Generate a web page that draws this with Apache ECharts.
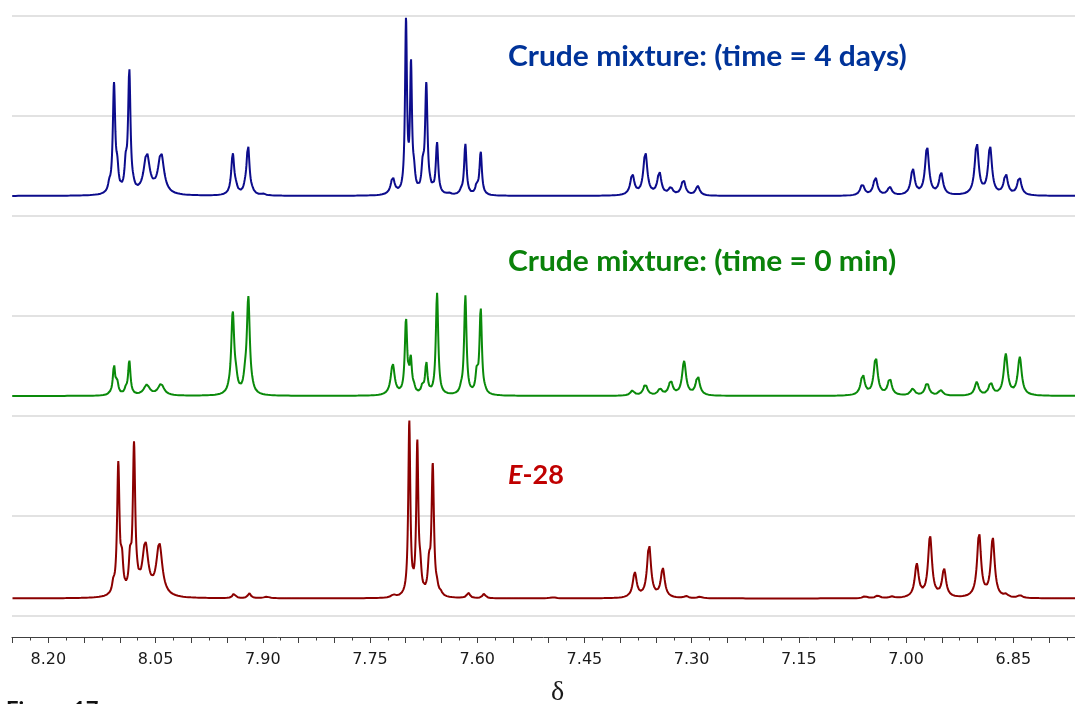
<!DOCTYPE html>
<html>
<head>
<meta charset="utf-8">
<script src="https://cdn.jsdelivr.net/npm/echarts@6/dist/echarts.min.js"></script>
<style>
html,body{margin:0;padding:0;background:#fff;}
#chart{width:1075px;height:704px;}
</style>
</head>
<body>
<div id="chart"></div>
<script>
// ---- axis (chemical shift, ppm; drawn reversed) ----
const shiftMin = 6.7637, shiftMax = 8.2508;
const tickLabels = [8.20, 8.05, 7.90, 7.75, 7.60, 7.45, 7.30, 7.15, 7.00, 6.85];
const majorTicks = [8.25, 8.20, 8.15, 8.10, 8.05, 8.00, 7.95, 7.90, 7.85, 7.80, 7.75, 7.70, 7.65, 7.60,
                    7.55, 7.50, 7.45, 7.40, 7.35, 7.30, 7.25, 7.20, 7.15, 7.10, 7.05, 7.00, 6.95, 6.90,
                    6.85, 6.80];
const minorTicks = [8.225, 8.175, 8.125, 8.075, 8.025, 7.975, 7.925, 7.875, 7.825, 7.775, 7.725, 7.675,
                    7.625, 7.575, 7.525, 7.475, 7.425, 7.375, 7.325, 7.275, 7.225, 7.175, 7.125, 7.075,
                    7.025, 6.975, 6.925, 6.875, 6.825, 6.775];

// ---- stack offsets of each trace (intensity units) ----
const blueOffset = 420, greenOffset = 220, redOffset = 17.5;

// ---- peak lists (chemical shift ppm, height, half-width ppm) ----
// Crude mixture, time = 4 days
const blueShift  = [8.1147,8.1081,8.1035,8.0917,8.0867,8.0811,8.0623,8.0423,
                    7.9420,7.9374,7.9248,7.9206,7.9146,7.8996,
                    7.7182,7.6996,7.6926,7.6884,7.6762,7.6712,7.6660,7.6562,7.6394,7.6226,7.6166,7.6007,7.5951,
                    7.3830,7.3648,7.3452,7.3293,7.3116,7.2915,
                    7.0612,7.0430,7.0229,6.9907,6.9707,6.9511,6.9012,6.8826,6.8606,6.8416];
const blueHeight = [7,108,20,24,121,3,40,41,
                    41,5,4,49,2,1.5,
                    17,171,124,16,23,108,3,51,1.5,3,51,9,43,
                    21,43,23,7.5,16,9.5,
                    11.5,18.5,8.5,26,48,22,52,48,21,18.5];
const blueWidth  = [0.0020,0.0020,0.0020,0.0020,0.0020,0.0020,0.0050,0.0050,
                    0.0025,0.0025,0.0025,0.0025,0.0025,0.0033,
                    0.0033,0.0016,0.0016,0.0020,0.0020,0.0020,0.0020,0.0020,0.0033,0.0020,0.0020,0.0020,0.0020,
                    0.0033,0.0033,0.0033,0.0033,0.0033,0.0033,
                    0.0033,0.0033,0.0033,0.0033,0.0033,0.0033,0.0033,0.0033,0.0033,0.0033];

// Crude mixture, time = 0 min
const greenShift  = [8.1147,8.1081,8.1035,8.0917,8.0867,8.0623,8.0423,
                     7.9476,7.9420,7.9374,7.9248,7.9202,7.9146,
                     7.7182,7.6996,7.6930,7.6884,7.6768,7.6712,7.6562,7.6226,7.6166,7.6007,7.5951,7.5891,
                     7.3830,7.3648,7.3442,7.3293,7.3106,7.2915,
                     7.0607,7.0425,7.0229,6.9907,6.9707,6.9515,6.9012,6.8816,6.8606,6.8410];
const greenHeight = [1,29,11,5,34,10.5,11.5,
                     1.5,81,11,11,96,2,
                     31,74,33,5,7,31,102,4,99,19,85,2,
                     5,11.5,6.5,14.5,34,19.5,
                     21,38,17,7,13,5.5,13.5,12.5,41,38];
const greenWidth  = [0.0020,0.0020,0.0020,0.0020,0.0020,0.0050,0.0050,
                     0.0025,0.0025,0.0025,0.0025,0.0025,0.0025,
                     0.0033,0.0020,0.0020,0.0020,0.0020,0.0020,0.0020,0.0020,0.0020,0.0020,0.0020,0.0020,
                     0.0033,0.0033,0.0033,0.0033,0.0033,0.0033,
                     0.0033,0.0033,0.0033,0.0033,0.0033,0.0033,0.0033,0.0033,0.0033,0.0033];

// E-28
const redShift  = [8.1091,8.1021,8.0969,8.0857,8.0801,8.0755,8.0643,8.0447,
                   7.9402,7.9188,7.8945,
                   7.7173,7.6950,7.6838,7.6796,7.6674,7.6622,7.6562,7.6510,7.6124,7.5904,7.4935,
                   7.3796,7.3596,7.3404,7.3079,7.2883,
                   7.0574,7.0397,7.0201,6.9851,6.9665,6.9469,6.8979,6.8788,6.8602,6.8406];
const redHeight = [9,130,29,30,146,4,51,52,
                   4.5,5,1.5,
                   2.5,174,150,21,27,130,6,3,5.5,4.5,1,
                   25,53,29,2,1.5,
                   2,2.7,1.5,33,61,28,64,59,2.7,2.7];
const redWidth  = [0.0020,0.0020,0.0020,0.0020,0.0020,0.0020,0.0050,0.0050,
                   0.0025,0.0025,0.0050,
                   0.0033,0.0017,0.0017,0.0020,0.0020,0.0020,0.0020,0.0020,0.0025,0.0025,0.0050,
                   0.0033,0.0033,0.0033,0.0033,0.0033,
                   0.0033,0.0033,0.0033,0.0033,0.0033,0.0033,0.0033,0.0033,0.0033,0.0033];

// ---- build traces (Lorentzian line shapes from the peak lists) ----
function trace(shifts, heights, widths, offset) {
  const pts = [];
  const step = 0.0004;
  const n = Math.ceil((shiftMax - shiftMin) / step);
  for (let i = 0; i <= n; i++) {
    const x = Math.min(shiftMin + i * step, shiftMax);
    let y = 0;
    for (let k = 0; k < shifts.length; k++) {
      const d = (x - shifts[k]) / widths[k];
      y += heights[k] / (1 + d * d);
    }
    pts.push([x, y + offset]);
  }
  return pts;
}

const chart = echarts.init(document.getElementById('chart'), null, {renderer: 'canvas'});
const lineSeries = (name, data, color) => ({
  name, type: 'line', data, xAxisIndex: 0, showSymbol: false, symbol: 'none',
  lineStyle: {color, width: 2}, animation: false, silent: true, sampling: null
});
const axisColor = '#404040';

chart.setOption({
  animation: false,
  grid: {left: 12, right: 0, top: 16, bottom: 88, containLabel: false},
  xAxis: [{
    type: 'value', min: shiftMin, max: shiftMax, inverse: true, position: 'bottom',
    offset: 21,
    axisLine: {show: true, onZero: false, lineStyle: {color: axisColor, width: 1}},
    axisTick: {show: true, length: 6, customValues: majorTicks, lineStyle: {color: axisColor, width: 1}},
    splitLine: {show: false},
    axisLabel: {
      color: '#1a1a1a', fontFamily: 'DejaVu Sans', fontSize: 16, margin: 15,
      customValues: tickLabels,
      formatter: v => v.toFixed(2)
    }
  }, {
    type: 'value', min: shiftMin, max: shiftMax, inverse: true, position: 'bottom',
    offset: 21,
    axisLine: {show: false, onZero: false},
    axisTick: {show: true, length: 3.5, customValues: minorTicks, lineStyle: {color: axisColor, width: 1}},
    splitLine: {show: false},
    axisLabel: {show: false}
  }],
  yAxis: {
    type: 'value', min: 0, max: 600, interval: 100,
    axisLine: {show: false}, axisTick: {show: false}, axisLabel: {show: false},
    splitLine: {show: true, lineStyle: {color: '#d9d9d9', width: 1.5}}
  },
  graphic: [
    {type: 'text', x: 508, y: 57, scaleX: 1.07, style: {text: 'Crude mixture: (time = 4 days)', fill: '#003399',
      fontFamily: 'Lato', fontWeight: 'bold', fontSize: 28, align: 'left', verticalAlign: 'middle'}},
    {type: 'text', x: 508, y: 262, scaleX: 1.07, style: {text: 'Crude mixture: (time = 0 min)', fill: '#0a820a',
      fontFamily: 'Lato', fontWeight: 'bold', fontSize: 28, align: 'left', verticalAlign: 'middle'}},
    {type: 'text', x: 508, y: 475, style: {text: '{i|E}{b|-28}', align: 'left', verticalAlign: 'middle',
      rich: {
        i: {fill: '#c00000', fontFamily: 'Lato', fontWeight: 'bold', fontStyle: 'italic', fontSize: 27},
        b: {fill: '#c00000', fontFamily: 'Lato', fontWeight: 'bold', fontSize: 27}
      }}},
    {type: 'text', x: 557.7, y: 679, style: {text: 'δ', fill: '#1a1a1a',
      fontFamily: 'Liberation Serif', fontSize: 28, align: 'center', verticalAlign: 'top'}},
    {type: 'text', x: 6, y: 711, style: {text: 'Figure 17', fill: '#111',
      fontFamily: 'Lato', fontWeight: 'bold', fontSize: 22, align: 'left', verticalAlign: 'middle'}}
  ],
  series: [
    lineSeries('Crude mixture: (time = 4 days)', trace(blueShift, blueHeight, blueWidth, blueOffset), '#0c0c8c'),
    lineSeries('Crude mixture: (time = 0 min)', trace(greenShift, greenHeight, greenWidth, greenOffset), '#0a8a0a'),
    lineSeries('E-28', trace(redShift, redHeight, redWidth, redOffset), '#8b0000')
  ]
});
</script>
</body>
</html>
